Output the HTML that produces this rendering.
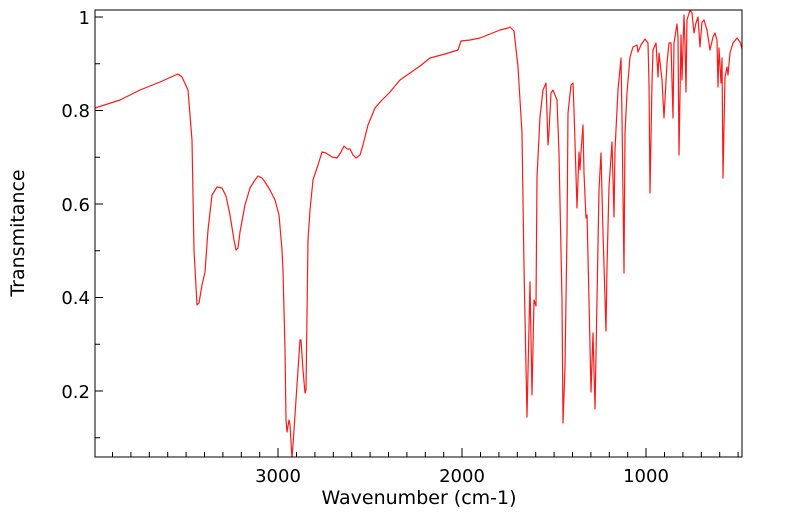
<!DOCTYPE html>
<html><head><style>body{margin:0;background:#fff}svg{display:block}text{font-family:"DejaVu Sans","Liberation Sans",sans-serif;font-size:18px;fill:#000}</style></head>
<body>
<svg width="799" height="516" viewBox="0 0 799 516" xmlns="http://www.w3.org/2000/svg">
<defs><clipPath id="c"><rect x="95" y="10" width="647" height="447"/></clipPath></defs>
<g clip-path="url(#c)">
<polyline fill="none" stroke="#ff1a1a" stroke-width="1.2" stroke-linejoin="round" points="
95,108 120,100 140,90 160,82 178,74 182,77 188,90 192,140 194,250 197,305 199,303 202,285 205,272 208,230 212,195 217,187 222,188 226,196 230,215 234,240 236,250 238,248 240,232 245,205 250,188 255,180 258,176 262,178 265,182 270,190 275,200 279,215 282,250 283,270 285,350 286,420 287,432 289,420 290,425 292,458 293,445 296,400 298,370 300,340 301,340 303,370 305,393 306,390 308,240 310,210 313,180 318,165 322,152 326,153 332,157 337,158 341,152 344,146 347,149 350,149 353,155 356,158 360,155 363,145 368,125 375,108 382,100 390,92 400,80 410,73 420,66 430,58 445,54 458,50 461,41 470,40 480,38 490,34 500,30 508,28 510,27 512,29 514,31
518,67 522,133 524,267 527,417 530,282 532,395 534,300 536,306 537,177 540,117 543,90 546,83 548,145 549,132 551,93 553,90 557,100 559,153 562,300 563,423 565,367 567,233 568,113 571,85 573,83 574,110 577,208 579,152 580,170 581,152 583,125 584,173 586,218 587,215 589,300 591,392 593,333 595,409 597,300 599,190 601,153 603,233 606,331 607,267 609,187 612,142 614,217 615,150 618,90 621,58 622,117 624,273 625,133 627,93 630,57 633,47 637,45 638,52 641,45 645,39 648,43 649,83 650,193 652,83 653,50 656,43 658,77 659,53 662,80 664,118 667,63 669,43 671,43 673,118 674,43 677,24 678,37 679,155 681,35 682,80 684,15 685,43 686,92 687,20 690,10 692,13 694,33 696,23 698,17 700,47 702,22 704,20 707,30 710,50 713,37 715,33 717,40 718,87 719,48 721,83 722,58 723,178 725,77 727,67 728,75 730,53 733,43 737,38 740,42 743,52"/>
</g>
<rect x="95" y="10" width="647" height="447" fill="none" stroke="#000" stroke-width="1"/>
<g stroke="#000" stroke-width="1">
<path d="M112.5,457v-5M130.9,457v-5M149.3,457v-5M167.7,457v-5M186.1,457v-5M204.5,457v-5M222.9,457v-5M241.3,457v-5M259.7,457v-5M278,457v-9M296.5,457v-5M314.9,457v-5M333.3,457v-5M351.7,457v-5M370.1,457v-5M388.5,457v-5M406.9,457v-5M425.3,457v-5M443.7,457v-5M462,457v-9M480.5,457v-5M498.9,457v-5M517.3,457v-5M535.7,457v-5M554.1,457v-5M572.5,457v-5M590.9,457v-5M609.3,457v-5M627.7,457v-5M646,457v-9M664.5,457v-5M682.9,457v-5M701.3,457v-5M719.7,457v-5M738.1,457v-5"/>
<path d="M95,17h8M95,110.5h8M95,204h8M95,297.5h8M95,391h8M95,63.75h5M95,157.25h5M95,250.75h5M95,344.25h5M95,437.75h5"/>
</g>
<g text-anchor="end">
<text x="90" y="24">1</text><text x="90" y="117">0.8</text><text x="90" y="211">0.6</text><text x="90" y="304">0.4</text><text x="90" y="398">0.2</text>
</g>
<g text-anchor="middle">
<text x="278" y="482">3000</text><text x="462" y="482">2000</text><text x="646" y="482">1000</text>
<text x="419" y="504" style="font-size:19px">Wavenumber (cm-1)</text>
<text x="24" y="233" transform="rotate(-90 24 233)" style="font-size:19px">Transmitance</text>
</g>
</svg>
</body></html>
